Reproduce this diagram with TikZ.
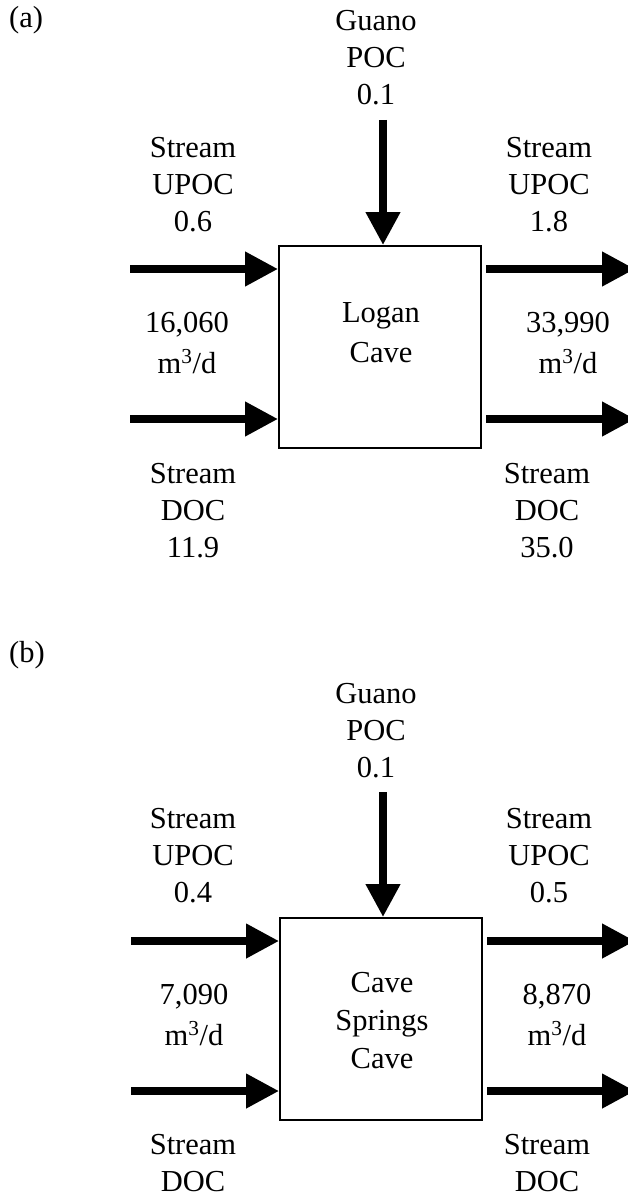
\documentclass[tikz,border=0pt]{standalone}
\usepackage{fontspec}
\setmainfont{Liberation Serif}
\usetikzlibrary{arrows.meta}
\begin{document}
\begin{tikzpicture}[x=1pt,y=-1pt,
  % multi-line labels are placed by the baseline of their last line
  txt/.style={font=\fontsize{30.5pt}{37pt}\selectfont, align=center, inner sep=0pt, anchor=base},
  qty/.style={txt, font=\fontsize{30.5pt}{41pt}\selectfont},
  cave/.style={draw, line width=1.6pt, minimum width=202.4pt, minimum height=202.4pt, inner sep=0pt},
  flow/.style={line width=7.5pt, -{Triangle[width=33pt,length=33pt]}},
]
\path[use as bounding box] (0,0) rectangle (628,1196);
\clip (0,0) rectangle (628,1196);

% ---------- (a) Logan Cave ----------
\node[txt, anchor=base west] (labA) at (9,27.5) {(a)};
\node[txt] (guanoA) at (376,105) {Guano\\POC\\0.1};
\node[cave] (boxA) at (380,347) {};
\node[txt, font=\fontsize{30.5pt}{40pt}\selectfont] (nameA) at (381,362) {Logan\\Cave};
\node[txt] (upInA) at (193,231) {Stream\\UPOC\\0.6};
\node[txt] (upOutA) at (549,231) {Stream\\UPOC\\1.8};
\node[qty] (qInA) at (187,373) {16,060\\m\textsuperscript{3}/d};
\node[qty] (qOutA) at (568,373) {33,990\\m\textsuperscript{3}/d};
\node[txt] (docInA) at (193,557) {Stream\\DOC\\11.9};
\node[txt] (docOutA) at (547,557) {Stream\\DOC\\35.0};

\coordinate (aDrop) at (383,120);
\coordinate (aInU) at (130,269);
\coordinate (aInD) at (130,419);
\coordinate (aOutU) at (635,269);
\coordinate (aOutD) at (635,419);
\draw[flow] (aDrop) -- (aDrop |- boxA.north);
\draw[flow] (aInU) -- (aInU -| boxA.west);
\draw[flow] (aInD) -- (aInD -| boxA.west);
\draw[flow] ([xshift=4pt]boxA.east |- aOutU) -- (aOutU);
\draw[flow] ([xshift=4pt]boxA.east |- aOutD) -- (aOutD);

% ---------- (b) Cave Springs Cave ----------
\node[txt, anchor=base west] (labB) at (9,662.5) {(b)};
\node[txt] (guanoB) at (376,777) {Guano\\POC\\0.1};
\node[cave] (boxB) at (381,1019) {};
\node[txt, font=\fontsize{30.5pt}{38pt}\selectfont] (nameB) at (382,1068) {Cave\\Springs\\Cave};
\node[txt] (upInB) at (193,902) {Stream\\UPOC\\0.4};
\node[txt] (upOutB) at (549,902) {Stream\\UPOC\\0.5};
\node[qty] (qInB) at (194,1045) {7,090\\m\textsuperscript{3}/d};
\node[qty] (qOutB) at (557,1045) {8,870\\m\textsuperscript{3}/d};
\node[txt] (docInB) at (193,1191) {Stream\\DOC};
\node[txt] (docOutB) at (547,1191) {Stream\\DOC};

\coordinate (bDrop) at (383,792);
\coordinate (bInU) at (131,941);
\coordinate (bInD) at (131,1091);
\coordinate (bOutU) at (635,941);
\coordinate (bOutD) at (635,1091);
\draw[flow] (bDrop) -- (bDrop |- boxB.north);
\draw[flow] (bInU) -- (bInU -| boxB.west);
\draw[flow] (bInD) -- (bInD -| boxB.west);
\draw[flow] ([xshift=4pt]boxB.east |- bOutU) -- (bOutU);
\draw[flow] ([xshift=4pt]boxB.east |- bOutD) -- (bOutD);
\end{tikzpicture}
\end{document}
